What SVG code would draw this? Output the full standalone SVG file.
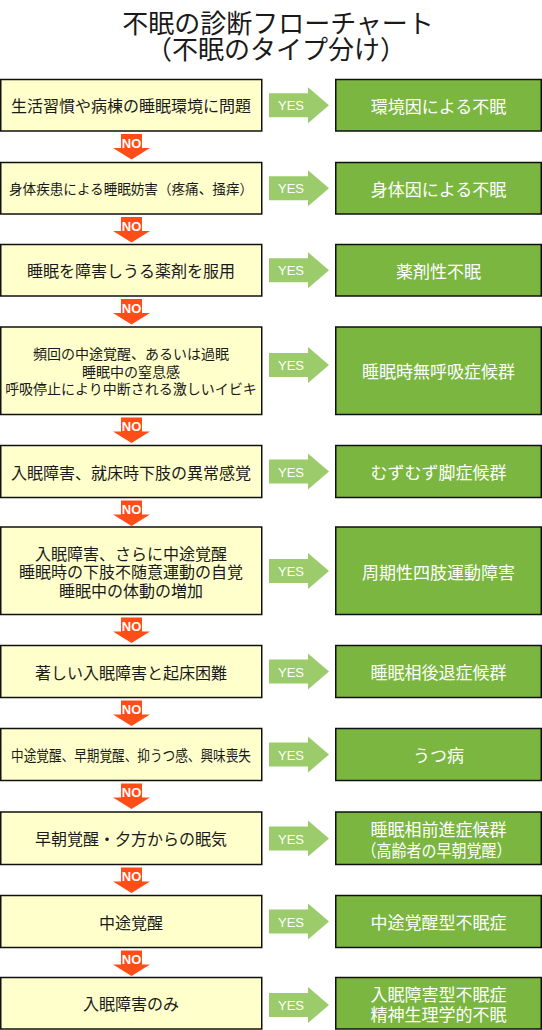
<svg xmlns="http://www.w3.org/2000/svg" width="542" height="1030" viewBox="0 0 542 1030">
<defs>
<style>
.q{fill:#FFFFCC;stroke:#111;stroke-width:1.5}
.r{fill:#7AB640;stroke:#111;stroke-width:1.5}
.qt{font-family:"Noto Sans CJK JP","Noto Sans CJK SC",sans-serif;font-size:16px;fill:#1a1a1a;text-anchor:middle;dominant-baseline:central}
.rt{font-family:"Noto Sans CJK JP","Noto Sans CJK SC",sans-serif;font-size:17px;fill:#fff;text-anchor:middle;dominant-baseline:central}
.title{font-family:"Noto Sans CJK JP","Noto Sans CJK SC",sans-serif;font-size:26px;fill:#1a1a1a;text-anchor:middle;dominant-baseline:central}
.yes{fill:#9BCB6B}
.yt{font-family:"Liberation Sans",Arial,sans-serif;font-size:13px;fill:#fff;text-anchor:middle;dominant-baseline:central}
.no{fill:#FF4D17}
.nt{font-family:"Liberation Sans",Arial,sans-serif;font-size:13px;font-weight:bold;fill:#fff;text-anchor:middle;dominant-baseline:central}
</style>
<g id="yesArrow"><path class="yes" d="M269,-12 H308 V-18 L329,0 L308,18 V12 H269 Z"/><text class="yt" x="291" y="0.5">YES</text></g>
<g id="noArrow"><path class="no" d="M121,3 H142 V17 H150 L131.5,28.5 L113,17 H121 Z"/><text class="nt" x="131.5" y="12">NO</text></g>
</defs>

<g id="title">
<text class="title" x="278" y="21">不眠の診断フローチャート</text>
<text class="title" x="276" y="47">（不眠のタイプ分け）</text>
</g>

<g id="connectors">
<use href="#yesArrow" y="105.3"/>
<use href="#yesArrow" y="188.3"/>
<use href="#yesArrow" y="270.3"/>
<use href="#yesArrow" y="365"/>
<use href="#yesArrow" y="471.5"/>
<use href="#yesArrow" y="571"/>
<use href="#yesArrow" y="671.5"/>
<use href="#yesArrow" y="754.5"/>
<use href="#yesArrow" y="838.5"/>
<use href="#yesArrow" y="921.5"/>
<use href="#yesArrow" y="1005"/>
<use href="#noArrow" y="131"/>
<use href="#noArrow" y="214"/>
<use href="#noArrow" y="296"/>
<use href="#noArrow" y="414.5"/>
<use href="#noArrow" y="497.5"/>
<use href="#noArrow" y="614.5"/>
<use href="#noArrow" y="697.5"/>
<use href="#noArrow" y="780.5"/>
<use href="#noArrow" y="864.5"/>
<use href="#noArrow" y="947.5"/>
</g>

<g id="q1"><rect class="q" x="0.75" y="79.5" width="261" height="51.5"/><text class="qt" x="131" y="105.3">生活習慣や病棟の睡眠環境に問題</text></g>
<g id="r1"><rect class="r" x="335.75" y="79.5" width="205.5" height="51.5"/><text class="rt" x="438.5" y="105.3">環境因による不眠</text></g>

<g id="q2"><rect class="q" x="0.75" y="162.5" width="261" height="51.5"/><text class="qt" x="131" y="188.3" style="font-size:14px" textLength="244" lengthAdjust="spacingAndGlyphs">身体疾患による睡眠妨害（疼痛、掻痒）</text></g>
<g id="r2"><rect class="r" x="335.75" y="162.5" width="205.5" height="51.5"/><text class="rt" x="438.5" y="188.3">身体因による不眠</text></g>

<g id="q3"><rect class="q" x="0.75" y="244.5" width="261" height="51.5"/><text class="qt" x="131" y="270.3">睡眠を障害しうる薬剤を服用</text></g>
<g id="r3"><rect class="r" x="335.75" y="244.5" width="205.5" height="51.5"/><text class="rt" x="438.5" y="270.3">薬剤性不眠</text></g>

<g id="q4"><rect class="q" x="0.75" y="327" width="261" height="87.5"/>
<text class="qt" x="131" y="353" style="font-size:14px">頻回の中途覚醒、あるいは過眠</text>
<text class="qt" x="131" y="370.7" style="font-size:14px">睡眠中の窒息感</text>
<text class="qt" x="131" y="388.3" style="font-size:14px">呼吸停止により中断される激しいイビキ</text></g>
<g id="r4"><rect class="r" x="335.75" y="327" width="205.5" height="87.5"/><text class="rt" x="438.5" y="370.7">睡眠時無呼吸症候群</text></g>

<g id="q5"><rect class="q" x="0.75" y="445.5" width="261" height="52"/><text class="qt" x="131" y="471.5">入眠障害、就床時下肢の異常感覚</text></g>
<g id="r5"><rect class="r" x="335.75" y="445.5" width="205.5" height="52"/><text class="rt" x="438.5" y="471.5">むずむず脚症候群</text></g>

<g id="q6"><rect class="q" x="0.75" y="527" width="261" height="87.5"/>
<text class="qt" x="131" y="552.5">入眠障害、さらに中途覚醒</text>
<text class="qt" x="131" y="571.3">睡眠時の下肢不随意運動の自覚</text>
<text class="qt" x="131" y="590">睡眠中の体動の増加</text></g>
<g id="r6"><rect class="r" x="335.75" y="527" width="205.5" height="87.5"/><text class="rt" x="438.5" y="571">周期性四肢運動障害</text></g>

<g id="q7"><rect class="q" x="0.75" y="645.5" width="261" height="52"/><text class="qt" x="131" y="671.5">著しい入眠障害と起床困難</text></g>
<g id="r7"><rect class="r" x="335.75" y="645.5" width="205.5" height="52"/><text class="rt" x="438.5" y="671.5">睡眠相後退症候群</text></g>

<g id="q8"><rect class="q" x="0.75" y="728.5" width="261" height="52"/><text class="qt" x="131" y="754.5" style="font-size:15px" textLength="240" lengthAdjust="spacingAndGlyphs">中途覚醒、早期覚醒、抑うつ感、興味喪失</text></g>
<g id="r8"><rect class="r" x="335.75" y="728.5" width="205.5" height="52"/><text class="rt" x="438.5" y="754.5">うつ病</text></g>

<g id="q9"><rect class="q" x="0.75" y="812" width="261" height="52.5"/><text class="qt" x="131" y="838.3">早朝覚醒・夕方からの眠気</text></g>
<g id="r9"><rect class="r" x="335.75" y="812" width="205.5" height="52.5"/>
<text class="rt" x="438.5" y="828">睡眠相前進症候群</text>
<text class="rt" x="436.5" y="849" textLength="150" lengthAdjust="spacingAndGlyphs">（高齢者の早朝覚醒）</text></g>

<g id="q10"><rect class="q" x="0.75" y="895.5" width="261" height="52"/><text class="qt" x="131" y="921.5">中途覚醒</text></g>
<g id="r10"><rect class="r" x="335.75" y="895.5" width="205.5" height="52"/><text class="rt" x="438.5" y="921.5">中途覚醒型不眠症</text></g>

<g id="q11"><rect class="q" x="0.75" y="977.5" width="261" height="51.5"/><text class="qt" x="131" y="1003.3">入眠障害のみ</text></g>
<g id="r11"><rect class="r" x="335.75" y="977.5" width="205.5" height="51.5"/>
<text class="rt" x="438.5" y="993.3">入眠障害型不眠症</text>
<text class="rt" x="438.5" y="1013.8">精神生理学的不眠</text></g>
</svg>
